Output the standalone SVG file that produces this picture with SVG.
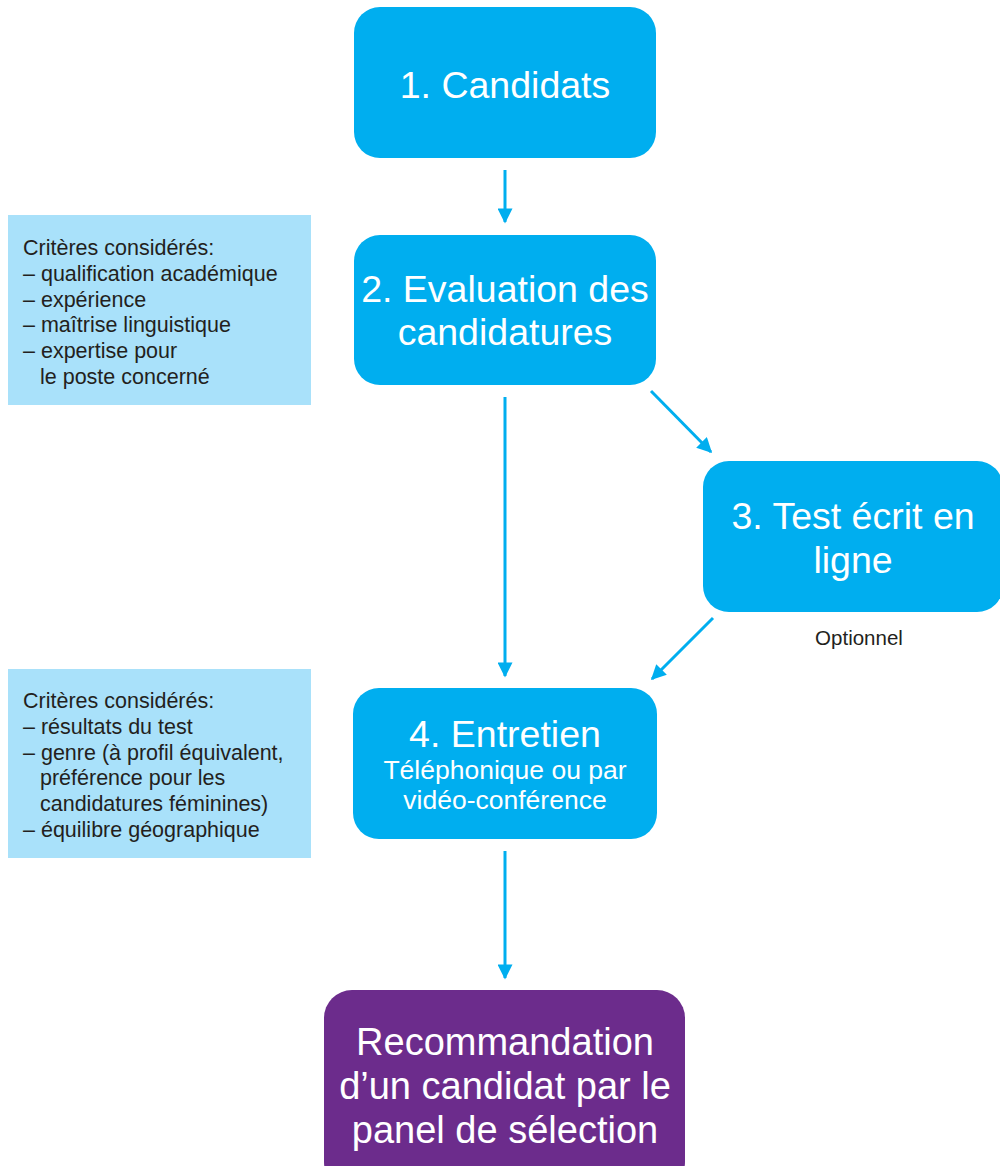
<svg xmlns="http://www.w3.org/2000/svg" width="1000" height="1166" viewBox="0 0 1000 1166">
  <defs>
    <marker id="head" viewBox="0 0 10 10" refX="9" refY="5" markerWidth="5.5" markerHeight="5" markerUnits="strokeWidth" orient="auto">
      <path d="M0,0 L10,5 L0,10 Z" fill="#00AEEF"/>
    </marker>
    <style>
      .step { fill: #00AEEF; }
      .final { fill: #6C2C8C; }
      .note { fill: #A9E1FA; }
      .big { font-family: "Liberation Sans", Arial, sans-serif; font-size: 37.5px; fill: #ffffff; text-anchor: middle; }
      .sub { font-family: "Liberation Sans", Arial, sans-serif; font-size: 26.5px; fill: #ffffff; text-anchor: middle; }
      .small { font-family: "Liberation Sans", Arial, sans-serif; font-size: 21.5px; fill: #231F20; }
      .conn { stroke: #00AEEF; stroke-width: 3; fill: none; marker-end: url(#head); }
    </style>
  </defs>
  <rect width="1000" height="1166" fill="#ffffff"/>

  <!-- criteria notes -->
  <g id="note-evaluation">
    <rect class="note" x="8" y="215" width="303" height="190"/>
    <text class="small">
      <tspan x="23" y="255">Critères considérés:</tspan>
      <tspan x="23" y="281">– qualification académique</tspan>
      <tspan x="23" y="306.5">– expérience</tspan>
      <tspan x="23" y="332">– maîtrise linguistique</tspan>
      <tspan x="23" y="358">– expertise pour</tspan>
      <tspan x="40" y="383.5">le poste concerné</tspan>
    </text>
  </g>
  <g id="note-entretien">
    <rect class="note" x="8" y="669" width="303" height="189"/>
    <text class="small">
      <tspan x="23" y="708">Critères considérés:</tspan>
      <tspan x="23" y="734">– résultats du test</tspan>
      <tspan x="23" y="759.5">– genre (à profil équivalent,</tspan>
      <tspan x="40" y="785">préférence pour les</tspan>
      <tspan x="40" y="811">candidatures féminines)</tspan>
      <tspan x="23" y="836.5">– équilibre géographique</tspan>
    </text>
  </g>

  <!-- process steps -->
  <g id="step1">
    <rect class="step" x="354" y="7" width="302" height="151" rx="26"/>
    <text class="big" x="505" y="97.5">1. Candidats</text>
  </g>
  <g id="step2">
    <rect class="step" x="354" y="235" width="302" height="150" rx="26"/>
    <text class="big" x="505" y="302">2. Evaluation des</text>
    <text class="big" x="505" y="345">candidatures</text>
  </g>
  <g id="step3">
    <rect class="step" x="703" y="461" width="300" height="151" rx="26"/>
    <text class="big" x="853" y="529">3. Test écrit en</text>
    <text class="big" x="853" y="573">ligne</text>
    <text class="small" x="859" y="645" text-anchor="middle" style="font-size:20.5px">Optionnel</text>
  </g>
  <g id="step4">
    <rect class="step" x="353" y="688" width="304" height="151" rx="26"/>
    <text class="big" x="505" y="746.5">4. Entretien</text>
    <text class="sub" x="505" y="779">Téléphonique ou par</text>
    <text class="sub" x="505" y="809">vidéo-conférence</text>
  </g>
  <g id="step5">
    <rect class="final" x="324" y="990" width="361" height="200" rx="28"/>
    <text class="big" x="505" y="1055" style="font-size:38px">Recommandation</text>
    <text class="big" x="505" y="1099" style="font-size:38px">d’un candidat par le</text>
    <text class="big" x="505" y="1143" style="font-size:38px">panel de sélection</text>
  </g>

  <!-- connectors -->
  <g id="connectors">
    <line class="conn" x1="505" y1="170" x2="505" y2="222"/>
    <line class="conn" x1="505" y1="397" x2="505" y2="676"/>
    <line class="conn" x1="651" y1="391" x2="711" y2="452"/>
    <line class="conn" x1="713" y1="618" x2="652" y2="679"/>
    <line class="conn" x1="505" y1="851" x2="505" y2="978"/>
  </g>
</svg>
